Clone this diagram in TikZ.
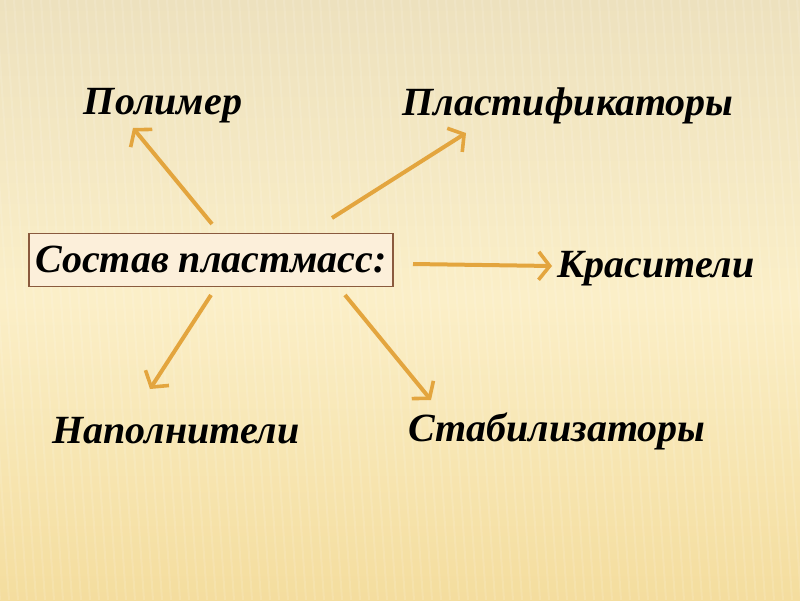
\documentclass[tikz,border=0pt]{standalone}
\usepackage{fontspec}
\setmainfont{Liberation Serif}
\usetikzlibrary{arrows.meta}

\definecolor{arrowgold}{HTML}{E3A53E}
\definecolor{boxline}{HTML}{8A5A3E}
\definecolor{boxfill}{HTML}{FCEFDA}
\definecolor{bgtop}{HTML}{EDE1BE}
\definecolor{bgmid}{HTML}{FBEFC8}
\definecolor{bgbot}{HTML}{F4DD9E}

\tikzset{
  part/.style={font=\fontsize{40}{44}\selectfont\bfseries\itshape, inner sep=0pt},
  topic/.style={part, draw=boxline, line width=1.6pt, fill=boxfill, inner xsep=6pt, inner ysep=13pt},
  ray/.style={draw=arrowgold, line width=4pt, -{Straight Barb[length=11pt,width=28pt,line width=3.6pt]}}
}

\begin{document}
\begin{tikzpicture}[x=1pt,y=-1pt]

        % background
        \shade[top color=bgtop, bottom color=bgbot, middle color=bgmid] (0,0) rectangle (800,600);
        \useasboundingbox (0,0) rectangle (800,600);
        \foreach \s in {-40,-31,...,800}
          \draw[white, opacity=.12, line width=2pt] (\s,0) -- (\s+40,600);

        \node[topic] (comp) at (211,260) {Состав пластмасс:};

        \node[part] (polymer)  at (163,106) {Полимер};
        \node[part] (plastif)  at (568,106) {Пластификаторы};
        \node[part] (dye)      at (656,269) {Красители};
        \node[part] (filler)   at (176,431) {Наполнители};
        \node[part] (stabil)   at (557,431) {Стабилизаторы};

        \begin{scope}
          \coordinate (p1) at (212,224); \coordinate (q1) at (133,128);
          \coordinate (p2) at (332,218); \coordinate (q2) at (466,133);
          \coordinate (p3) at (413,264); \coordinate (q3) at (552,266);
          \coordinate (p4) at (211,295); \coordinate (q4) at (150,389);
          \coordinate (p5) at (345,295); \coordinate (q5) at (431,400);
        \end{scope}

        \path[ray] (p1) -- (q1);
        \path[ray] (p2) -- (q2);
        \path[ray] (p3) -- (q3);
        \path[ray] (p4) -- (q4);
        \path[ray] (p5) -- (q5);

\end{tikzpicture}
\end{document}
